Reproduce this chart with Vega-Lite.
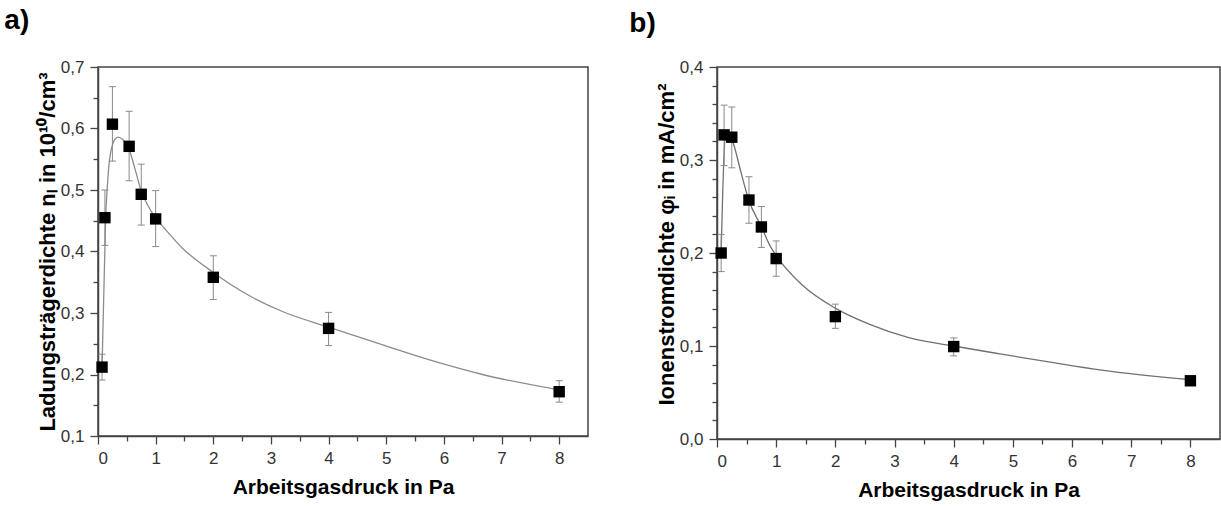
{
  "$schema": "https://vega.github.io/schema/vega-lite/v6.json",
  "padding": {"left": 3, "top": 6, "right": 0, "bottom": 0},
  "background": "white",
  "spacing": 39,
  "config": {
    "font": "Liberation Sans",
    "view": {"stroke": "#444444", "strokeWidth": 1.5},
    "axis": {"grid": false}
  },
  "datasets": {
    "pa": [
      {"x": 0.07, "y": 0.212, "lo": 0.191, "hi": 0.233},
      {"x": 0.12, "y": 0.455, "lo": 0.41, "hi": 0.5},
      {"x": 0.25, "y": 0.607, "lo": 0.547, "hi": 0.668},
      {"x": 0.54, "y": 0.571, "lo": 0.515, "hi": 0.628},
      {"x": 0.75, "y": 0.493, "lo": 0.443, "hi": 0.542},
      {"x": 1.0, "y": 0.453, "lo": 0.408, "hi": 0.499},
      {"x": 2.0, "y": 0.358, "lo": 0.322, "hi": 0.393},
      {"x": 4.0, "y": 0.275, "lo": 0.247, "hi": 0.301},
      {"x": 8.0, "y": 0.172, "lo": 0.155, "hi": 0.19}
    ],
    "ca": [
      {"x": 0.07, "y": 0.212}, {"x": 0.133, "y": 0.457}, {"x": 0.165, "y": 0.51},
      {"x": 0.2, "y": 0.549}, {"x": 0.29, "y": 0.582}, {"x": 0.35, "y": 0.586},
      {"x": 0.43, "y": 0.582}, {"x": 0.52, "y": 0.571}, {"x": 0.64, "y": 0.535},
      {"x": 0.75, "y": 0.498}, {"x": 0.87, "y": 0.474}, {"x": 0.98, "y": 0.457},
      {"x": 1.16, "y": 0.437}, {"x": 1.47, "y": 0.405}, {"x": 2.0, "y": 0.366},
      {"x": 2.63, "y": 0.328}, {"x": 3.21, "y": 0.302}, {"x": 4.0, "y": 0.277},
      {"x": 4.94, "y": 0.248}, {"x": 5.81, "y": 0.222}, {"x": 6.67, "y": 0.2},
      {"x": 8.0, "y": 0.175}
    ],
    "pb": [
      {"x": 0.07, "y": 0.2, "lo": 0.18, "hi": 0.22},
      {"x": 0.12, "y": 0.327, "lo": 0.294, "hi": 0.359},
      {"x": 0.25, "y": 0.3245, "lo": 0.2916, "hi": 0.357},
      {"x": 0.54, "y": 0.257, "lo": 0.232, "hi": 0.282},
      {"x": 0.75, "y": 0.228, "lo": 0.206, "hi": 0.25},
      {"x": 1.0, "y": 0.194, "lo": 0.175, "hi": 0.213},
      {"x": 2.0, "y": 0.1316, "lo": 0.119, "hi": 0.145},
      {"x": 4.0, "y": 0.0994, "lo": 0.0894, "hi": 0.1087},
      {"x": 8.0, "y": 0.0626, "lo": 0.0586, "hi": 0.0666}
    ],
    "cb": [
      {"x": 0.07, "y": 0.2}, {"x": 0.14, "y": 0.324}, {"x": 0.21, "y": 0.327},
      {"x": 0.28, "y": 0.317}, {"x": 0.4, "y": 0.288}, {"x": 0.53, "y": 0.258},
      {"x": 0.76, "y": 0.227}, {"x": 0.885, "y": 0.209}, {"x": 0.98, "y": 0.199},
      {"x": 1.45, "y": 0.165}, {"x": 1.99, "y": 0.141}, {"x": 2.57, "y": 0.1235},
      {"x": 3.24, "y": 0.109}, {"x": 4.0, "y": 0.1}, {"x": 4.81, "y": 0.0912},
      {"x": 5.66, "y": 0.0823}, {"x": 6.5, "y": 0.074}, {"x": 8.0, "y": 0.0637}
    ]
  },
  "hconcat": [
    {
      "width": 490,
      "height": 369,
      "title": {"text": "a)", "anchor": "start", "frame": "bounds", "fontSize": 28, "fontWeight": "bold", "color": "#000000", "dx": -32, "offset": 23, "dy": 0},
      "resolve": {"axis": {"x": "independent", "y": "independent"}},
      "layer": [
        {
          "data": {"name": "ca"},
          "mark": {"type": "line", "interpolate": "monotone", "color": "#8c8c8c", "strokeWidth": 1.3},
          "encoding": {
            "x": {"field": "x", "type": "quantitative", "scale": {"domain": [0, 8.5], "nice": false, "zero": false},
              "axis": {"orient": "bottom", "values": [0,1,2,3,4,5,6,7,8], "format": "d", "tickSize": 8, "tickWidth": 1.3, "tickColor": "#444444", "domainColor": "#444444", "domainWidth": 1.5, "labelFontSize": 17, "labelColor": "#333333", "labelPadding": 6, "title": "Arbeitsgasdruck in Pa", "titleFontSize": 21, "titleFontWeight": "bold", "titleColor": "#000000", "titlePadding": 10, "offset": 0}},
            "y": {"field": "y", "type": "quantitative", "scale": {"domain": [0.1, 0.7], "nice": false, "zero": false},
              "axis": {"orient": "left", "values": [0.1,0.2,0.3,0.4,0.5,0.6,0.7], "labelExpr": "replace(format(datum.value, '.1f'), '.', ',')", "tickSize": 8, "tickWidth": 1.3, "tickColor": "#444444", "domainColor": "#444444", "domainWidth": 1.5, "labelFontSize": 17, "labelColor": "#333333", "labelPadding": 6, "title": "Ladungsträgerdichte nₗ in 10¹⁰/cm³", "titleFontSize": 22, "titleFontWeight": "bold", "titleColor": "#000000", "titlePadding": 1, "offset": 0}}
          }
        },
        {
          "data": {"name": "pa"},
          "mark": {"type": "rule", "color": "#8a8a8a", "strokeWidth": 1},
          "encoding": {
            "x": {"field": "x", "type": "quantitative", "axis": null},
            "y": {"field": "lo", "type": "quantitative", "axis": null},
            "y2": {"field": "hi"}
          }
        },
        {
          "data": {"name": "pa"},
          "mark": {"type": "tick", "orient": "horizontal", "size": 7, "thickness": 1, "color": "#8a8a8a", "opacity": 1},
          "encoding": {
            "x": {"field": "x", "type": "quantitative", "axis": null},
            "y": {"field": "lo", "type": "quantitative", "axis": null}
          }
        },
        {
          "data": {"name": "pa"},
          "mark": {"type": "tick", "orient": "horizontal", "size": 7, "thickness": 1, "color": "#8a8a8a", "opacity": 1},
          "encoding": {
            "x": {"field": "x", "type": "quantitative", "axis": null},
            "y": {"field": "hi", "type": "quantitative", "axis": null}
          }
        },
        {
          "data": {"name": "pa"},
          "mark": {"type": "point", "shape": "square", "filled": true, "size": 130, "color": "#000000", "opacity": 1},
          "encoding": {
            "x": {"field": "x", "type": "quantitative", "axis": {"orient": "bottom", "values": [0.5,1.5,2.5,3.5,4.5,5.5,6.5,7.5], "tickSize": 5, "tickWidth": 1.3, "tickColor": "#444444", "labels": false, "domain": false, "title": null, "offset": 0}},
            "y": {"field": "y", "type": "quantitative", "axis": {"orient": "left", "values": [0.15,0.25,0.35,0.45,0.55,0.65], "tickSize": 5, "tickWidth": 1.3, "tickColor": "#444444", "labels": false, "domain": false, "title": null, "offset": 0}}
          }
        }
      ]
    },
    {
      "width": 503,
      "height": 372,
      "title": {"text": "b)", "anchor": "start", "frame": "bounds", "fontSize": 28, "fontWeight": "bold", "color": "#000000", "dx": -26, "offset": 20, "dy": 0},
      "resolve": {"axis": {"x": "independent", "y": "independent"}},
      "layer": [
        {
          "data": {"name": "cb"},
          "mark": {"type": "line", "interpolate": "monotone", "color": "#707070", "strokeWidth": 1.3},
          "encoding": {
            "x": {"field": "x", "type": "quantitative", "scale": {"domain": [0, 8.5], "nice": false, "zero": false},
              "axis": {"orient": "bottom", "values": [0,1,2,3,4,5,6,7,8], "format": "d", "tickSize": 8, "tickWidth": 1.3, "tickColor": "#444444", "domainColor": "#444444", "domainWidth": 1.5, "labelFontSize": 17, "labelColor": "#333333", "labelPadding": 6, "title": "Arbeitsgasdruck in Pa", "titleFontSize": 21, "titleFontWeight": "bold", "titleColor": "#000000", "titlePadding": 10, "offset": 0}},
            "y": {"field": "y", "type": "quantitative", "scale": {"domain": [0, 0.4], "nice": false, "zero": false},
              "axis": {"orient": "left", "values": [0,0.1,0.2,0.3,0.4], "labelExpr": "replace(format(datum.value, '.1f'), '.', ',')", "tickSize": 8, "tickWidth": 1.3, "tickColor": "#444444", "domainColor": "#444444", "domainWidth": 1.5, "labelFontSize": 17, "labelColor": "#333333", "labelPadding": 6, "title": "Ionenstromdichte φᵢ in mA/cm²", "titleFontSize": 22, "titleFontWeight": "bold", "titleColor": "#000000", "titlePadding": 1, "titleY": 177, "offset": 0}}
          }
        },
        {
          "data": {"name": "pb"},
          "mark": {"type": "rule", "color": "#8a8a8a", "strokeWidth": 1},
          "encoding": {
            "x": {"field": "x", "type": "quantitative", "axis": null},
            "y": {"field": "lo", "type": "quantitative", "axis": null},
            "y2": {"field": "hi"}
          }
        },
        {
          "data": {"name": "pb"},
          "mark": {"type": "tick", "orient": "horizontal", "size": 7, "thickness": 1, "color": "#8a8a8a", "opacity": 1},
          "encoding": {
            "x": {"field": "x", "type": "quantitative", "axis": null},
            "y": {"field": "lo", "type": "quantitative", "axis": null}
          }
        },
        {
          "data": {"name": "pb"},
          "mark": {"type": "tick", "orient": "horizontal", "size": 7, "thickness": 1, "color": "#8a8a8a", "opacity": 1},
          "encoding": {
            "x": {"field": "x", "type": "quantitative", "axis": null},
            "y": {"field": "hi", "type": "quantitative", "axis": null}
          }
        },
        {
          "data": {"name": "pb"},
          "mark": {"type": "point", "shape": "square", "filled": true, "size": 130, "color": "#000000", "opacity": 1},
          "encoding": {
            "x": {"field": "x", "type": "quantitative", "axis": {"orient": "bottom", "values": [0.5,1.5,2.5,3.5,4.5,5.5,6.5,7.5], "tickSize": 5, "tickWidth": 1.3, "tickColor": "#444444", "labels": false, "domain": false, "title": null, "offset": 0}},
            "y": {"field": "y", "type": "quantitative", "axis": {"orient": "left", "values": [0.02,0.04,0.06,0.08,0.12,0.14,0.16,0.18,0.22,0.24,0.26,0.28,0.32,0.34,0.36,0.38], "tickSize": 5, "tickWidth": 1.3, "tickColor": "#444444", "labels": false, "domain": false, "title": null, "offset": 0}}
          }
        }
      ]
    }
  ]
}
